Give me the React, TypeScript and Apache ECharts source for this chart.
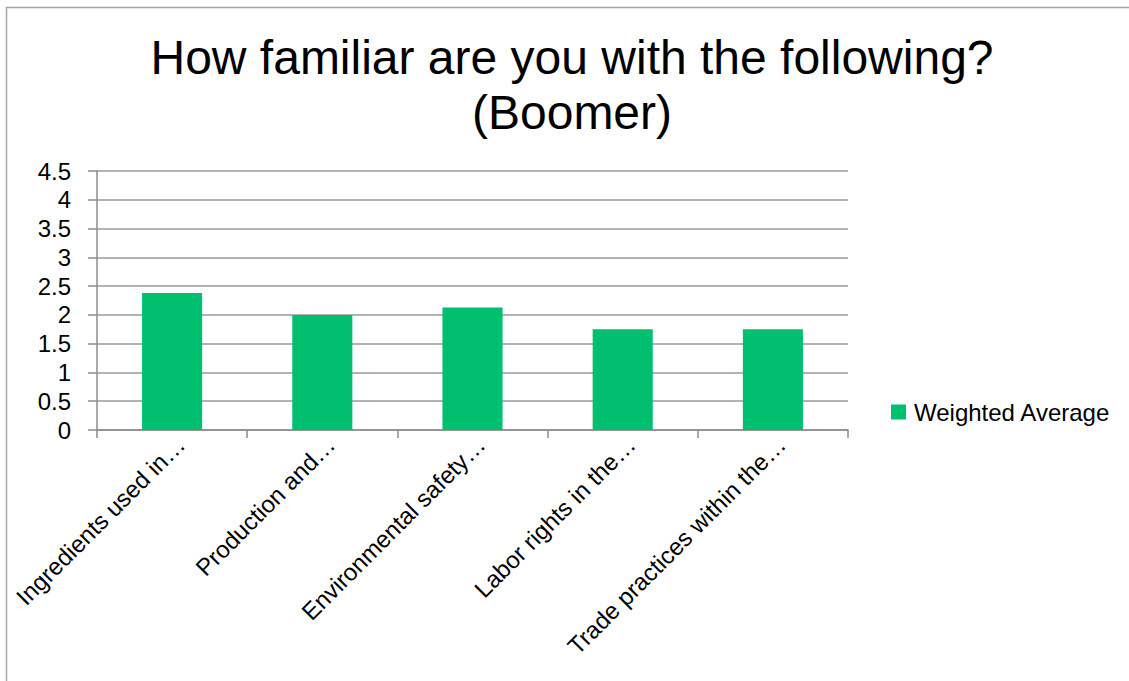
import React, { useEffect, useRef } from "react";
import * as echarts from "echarts";

const titleLines = ["How familiar are you with the following?", "(Boomer)"];
const categories = [
  "Ingredients used in…",
  "Production and…",
  "Environmental safety…",
  "Labor rights in the…",
  "Trade practices within the…",
];
const seriesName = "Weighted Average";
const weightedAverage = [2.38, 2.0, 2.13, 1.75, 1.75];
const yMin = 0;
const yMax = 4.5;
const yInterval = 0.5;

export default function App() {
  const ref = useRef<HTMLDivElement>(null);
  useEffect(() => {
    if (!ref.current) return;
    const chart = echarts.init(ref.current, null, { renderer: "svg" });
    const font = "'Liberation Sans', Arial, sans-serif";
    chart.setOption({
      animation: false,
      backgroundColor: "#ffffff",
      textStyle: { fontFamily: font },
      graphic: [
        {
          type: "rect",
          shape: { x: 6.5, y: 7.5, width: 1200, height: 800 },
          style: { fill: "none", stroke: "#a6a6a6", lineWidth: 1.5 },
          silent: true,
        },
      ],
      title: {
        text: titleLines.join("\n"),
        left: 567,
        top: 25,
        textAlign: "center",
        textStyle: {
          fontFamily: font,
          fontSize: 48,
          fontWeight: "normal",
          color: "#000000",
          lineHeight: 55,
        },
      },
      legend: {
        left: 891,
        top: 400,
        padding: 0,
        itemWidth: 15,
        itemHeight: 15,
        itemGap: 10,
        icon: "rect",
        textStyle: { fontFamily: font, fontSize: 24, color: "#000000", padding: [0, 0, 0, 3] },
        data: [seriesName],
      },
      grid: { left: 97, right: 281, top: 171, bottom: 251, containLabel: false },
      xAxis: {
        type: "category",
        data: categories,
        axisLine: { show: true, lineStyle: { color: "#8c8c8c", width: 1.5 } },
        axisTick: { show: true, length: 8, lineStyle: { color: "#8c8c8c", width: 1.5 } },
        axisLabel: {
          rotate: 45,
          interval: 0,
          margin: 2,
          verticalAlign: "top",
          fontFamily: font,
          fontSize: 24,
          color: "#000000",
        },
      },
      yAxis: {
        type: "value",
        min: yMin,
        max: yMax,
        interval: yInterval,
        axisLine: { show: true, lineStyle: { color: "#8c8c8c", width: 1.5 } },
        axisTick: { show: true, length: 9, lineStyle: { color: "#8c8c8c", width: 1.5 } },
        axisLabel: {
          margin: 26,
          fontFamily: font,
          fontSize: 24,
          color: "#000000",
        },
        splitLine: { show: true, lineStyle: { color: "#9a9a9a", width: 1.5 } },
      },
      series: [
        {
          name: seriesName,
          type: "bar",
          data: weightedAverage,
          barWidth: "40%",
          itemStyle: { color: "#00BF6F" },
        },
      ],
    });
    return () => chart.dispose();
  }, []);
  return (
    <div
      ref={ref}
      style={{ position: "fixed", left: 0, top: 0, width: 1129, height: 681 }}
    />
  );
}
